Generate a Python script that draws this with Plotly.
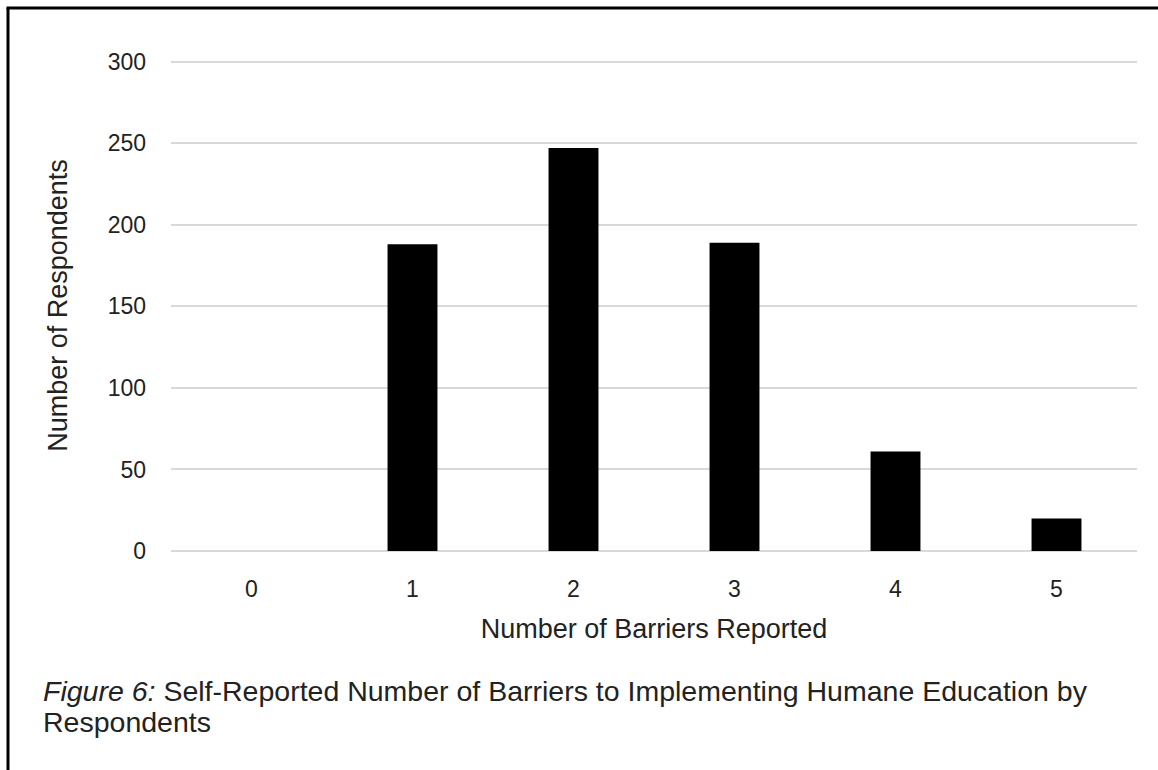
import plotly.graph_objects as go

# Survey results: how many barriers each respondent reported
barriers = ["0", "1", "2", "3", "4", "5"]
respondents = [0, 188, 247, 189, 61, 20]
y_ticks = [0, 50, 100, 150, 200, 250, 300]
y_max = 301

W, H = 1158, 770
L, R, T, B = 171, 21, 60, 219
PW, PH = W - L - R, H - T - B


def px_x(x):
    return (x - L) / PW


def px_y(y):
    return (H - B - y) / PH


FONT = "Liberation Sans, Arial, sans-serif"
INK = "#222222"

fig = go.Figure(
    go.Bar(
        x=barriers,
        y=respondents,
        marker=dict(color="black", line=dict(width=0)),
        width=0.31,
    )
)

fig.update_layout(
    width=W,
    height=H,
    margin=dict(l=L, r=R, t=T, b=B),
    paper_bgcolor="white",
    plot_bgcolor="white",
    showlegend=False,
    font=dict(family=FONT, color=INK, size=23),
    xaxis=dict(
        type="category",
        showgrid=False,
        showline=False,
        ticks="",
        ticklabelstandoff=22,
        tickfont=dict(size=23, color=INK),
        title=dict(text="Number of Barriers Reported", font=dict(size=27, color=INK), standoff=18),
    ),
    yaxis=dict(
        range=[0, y_max],
        tickvals=y_ticks,
        showgrid=True,
        gridcolor="#d9d9d9",
        gridwidth=2,
        zeroline=True,
        zerolinecolor="#d9d9d9",
        zerolinewidth=2,
        ticks="",
        ticklabelstandoff=24,
        tickfont=dict(size=23, color=INK),
        title=dict(text="Number of Respondents", font=dict(size=27, color=INK), standoff=32),
    ),
    shapes=[
        # frame around the figure: left and top edges
        dict(type="line", xref="paper", yref="paper",
             x0=px_x(8), x1=px_x(8), y0=px_y(8), y1=px_y(775),
             line=dict(color="black", width=3)),
        dict(type="line", xref="paper", yref="paper",
             x0=px_x(6.5), x1=px_x(1165), y0=px_y(8), y1=px_y(8),
             line=dict(color="black", width=3)),
    ],
    annotations=[
        dict(
            xref="paper", yref="paper",
            x=px_x(41), y=px_y(691),
            xanchor="left", yanchor="middle", align="left",
            showarrow=False,
            text="<i>Figure 6:</i> Self-Reported Number of Barriers to Implementing Humane Education by",
            font=dict(family=FONT, size=28.5, color=INK),
        ),
        dict(
            xref="paper", yref="paper",
            x=px_x(41), y=px_y(722),
            xanchor="left", yanchor="middle", align="left",
            showarrow=False,
            text="Respondents",
            font=dict(family=FONT, size=28.5, color=INK),
        ),
    ],
)

fig.write_html("out.html")
